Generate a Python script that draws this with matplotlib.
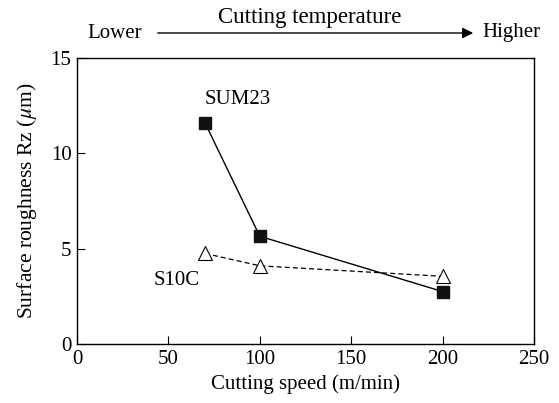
import matplotlib.pyplot as plt
from matplotlib.patches import FancyArrowPatch

plt.rcParams['font.family'] = ['Liberation Serif', 'DejaVu Serif']
plt.rcParams['mathtext.fontset'] = 'stix'

speed = [70, 100, 200]
sum23 = [11.6, 5.65, 2.75]
s10c = [4.75, 4.1, 3.55]

fig = plt.figure(figsize=(5.59, 4.03), dpi=100)
ax = fig.add_axes([77 / 559, 1 - 344 / 403, (534 - 77) / 559, (344 - 58) / 403])

ax.plot(speed, sum23, '-', color='black', lw=1.0, marker='s', ms=8.5,
        mfc='#111111', mec='#111111')
ax.plot(speed, s10c, '--', color='black', lw=0.9, marker='^', ms=9.5,
        mfc='white', mec='black', mew=0.8, dashes=(4, 2.5))

ax.set_xlim(0, 250)
ax.set_ylim(0, 15)
ax.set_xticks([0, 50, 100, 150, 200, 250])
ax.set_yticks([0, 5, 10, 15])
ax.tick_params(direction='in', length=6, labelsize=15, pad=4)
for s in ax.spines.values():
    s.set_linewidth(1.0)

ax.set_xlabel('Cutting speed (m/min)', fontsize=15, labelpad=4)
ax.set_ylabel(r'Surface roughness Rz ($\mu$m)', fontsize=15.5, labelpad=8)

ax.text(70, 12.3, 'SUM23', fontsize=15, ha='left', va='bottom')
ax.text(54.5, 3.35, 'S10C', fontsize=15, ha='center', va='center')

# temperature arrow above the axes
fig.text(87 / 559, 1 - 33 / 403, 'Lower', fontsize=15, ha='left', va='center')
fig.text(482 / 559, 1 - 33 / 403, 'Higher', fontsize=15, ha='left', va='center')
fig.text(310 / 559, 1 - 18 / 403, 'Cutting temperature', fontsize=16.5,
         ha='center', va='center')
fig.patches.append(FancyArrowPatch(
    (155 / 559, 1 - 33 / 403), (476 / 559, 1 - 33 / 403),
    transform=fig.transFigure, arrowstyle='-|>', mutation_scale=16,
    color='black', lw=1.0))

fig.savefig('out.png', dpi=100)
